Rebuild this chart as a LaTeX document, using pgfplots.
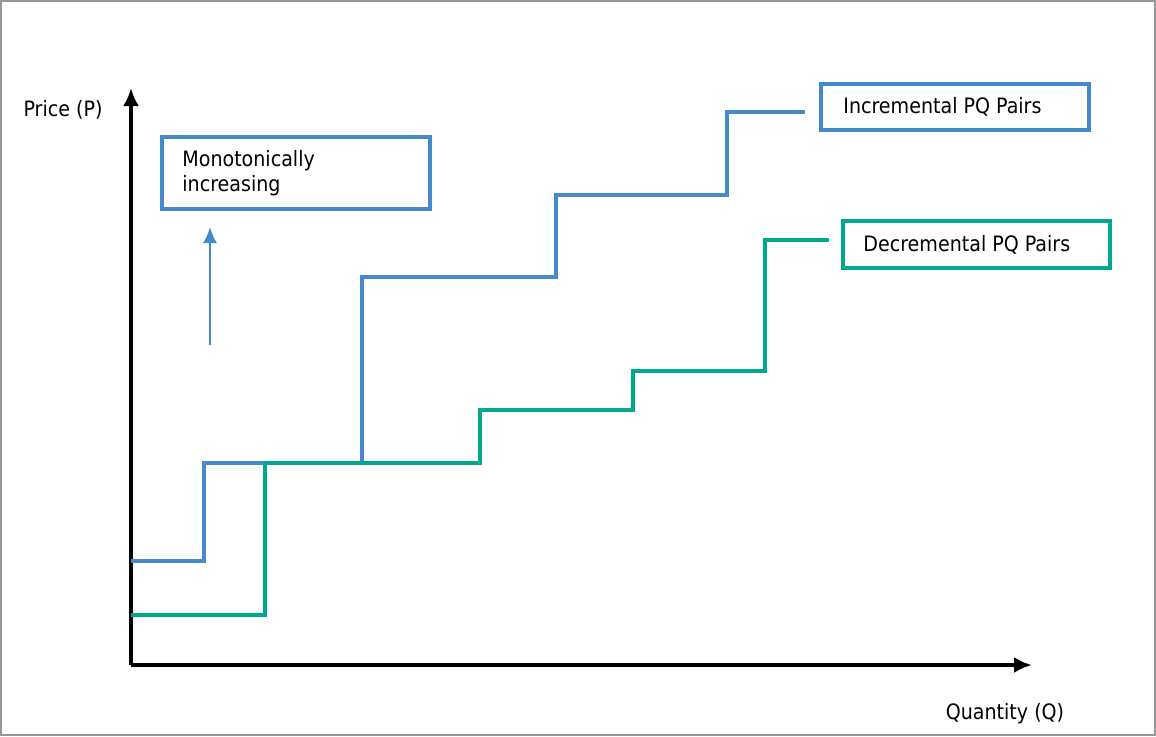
\documentclass[border=0pt]{standalone}
\usepackage{fontspec}
\setmainfont{DejaVu Sans Condensed}
\usepackage{pgfplots}
\pgfplotsset{compat=1.18}
\usetikzlibrary{arrows.meta}

\definecolor{incblue}{RGB}{70,136,204}
\definecolor{decgreen}{RGB}{0,168,142}
\definecolor{framegray}{RGB}{150,150,150}

\begin{document}
\begin{tikzpicture}
\begin{axis}[
    scale only axis,
    width=450.5pt, height=288.5pt,
    xmin=0, xmax=901, ymin=0, ymax=577,
    axis lines=left,
    axis line style={line width=1.8pt, -{Latex[length=9pt,width=8pt]}},
    xtick=\empty, ytick=\empty,
    clip=false,
    font=\fontsize{10.6}{12.8}\selectfont,
]
% outer frame
\draw[framegray, line width=1pt] (axis cs:-130,-70) rectangle (axis cs:1024,664);

% incremental PQ pairs (blue)
\addplot[const plot, incblue, line width=1.6pt] coordinates {
    (0,104) (73,202) (231,388) (425,470) (596,553) (674,553)};
% decremental PQ pairs (green)
\addplot[const plot, decgreen, line width=1.6pt] coordinates {
    (0,50) (134,202) (349,255) (502,294) (634,425) (698,425)};

% text boxes
\draw[incblue, line width=1.6pt, fill=white] (axis cs:31,456) rectangle (axis cs:299,528);
\node[anchor=west, align=left, inner sep=0pt] at (axis cs:51,492)
    {Monotonically\\increasing};
\draw[incblue, line width=1.6pt] (axis cs:690,535) rectangle (axis cs:958,581);
\node[anchor=west, inner sep=0pt] at (axis cs:712,558) {Incremental PQ Pairs};
\draw[decgreen, line width=1.6pt] (axis cs:712,397) rectangle (axis cs:979,444);
\node[anchor=west, inner sep=0pt] at (axis cs:732,420) {Decremental PQ Pairs};

% monotone arrow
\draw[incblue, line width=1.2pt, -{Latex[length=8pt,width=7pt]}] (axis cs:79,320) -- (axis cs:79,438);

% axis labels
\node at (axis cs:-68,555) {Price (P)};
\node at (axis cs:874,-49) {Quantity (Q)};
\end{axis}
\end{tikzpicture}
\end{document}
